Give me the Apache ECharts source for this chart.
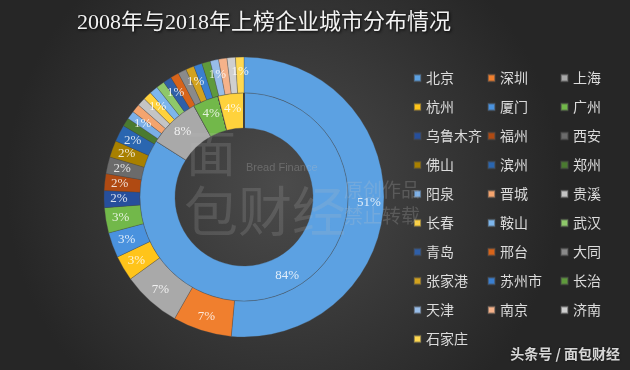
<!DOCTYPE html>
<html>
<head>
<meta charset="utf-8">
<script src="https://cdn.jsdelivr.net/npm/echarts@6/dist/echarts.min.js"></script>
<style>html,body{margin:0;padding:0;background:#333;}#c{width:630px;height:370px;}</style>
</head>
<body>
<div id="c"></div>
<script>
const cities = ['北京','深圳','上海','杭州','厦门','广州','乌鲁木齐','福州','西安','佛山','滨州','郑州','阳泉','晋城','贵溪','长春','鞍山','武汉','青岛','邢台','大同','张家港','苏州市','长治','天津','南京','济南','石家庄'];
const colors = ['#5ca1e2','#f07f2e','#a9a9a9','#ffc41a','#4a92de','#72b84a','#264f9c','#b04a12','#6b6b6b','#a88000','#2a66b0','#4a7a30','#7aaee6','#f4a46e','#c4c4c4','#ffd23c','#7db6ec','#8ec86a','#2f5fa8','#d8641a','#8a8a8a','#d2a21e','#3a7fd0','#5f9a3c','#98bde8','#f5b28a','#cfcfcf','#ffd850'];
// 2018 (outer ring) company counts by city
const values2018 = [53,7,7,3,3,3,2,2,2,2,2,1,1,1,1,1,1,1,1,1,1,1,1,1,1,1,1,1];
// 2008 (inner ring) company counts by city
const values2008 = [21,0,2,0,0,1,0,0,0,0,0,0,0,0,0,1,0,0,0,0,0,0,0,0,0,0,0,0];
const legendCol1 = ['北京','杭州','乌鲁木齐','佛山','阳泉','长春','青岛','张家港','天津','石家庄'];
const legendCol2 = ['深圳','厦门','福州','滨州','晋城','鞍山','邢台','苏州市','南京'];
const legendCol3 = ['上海','广州','西安','郑州','贵溪','武汉','大同','长治','济南'];
const titleText = '2008年与2018年上榜企业城市分布情况';

const chart = echarts.init(document.getElementById('c'), null, {renderer:'canvas'});
function mk(vals){ return cities.map((n,i)=>({name:n,value:vals[i],itemStyle:{color:colors[i]}})); }
const labelCfg = {
  show:true, position:'inside',
  formatter: p => p.value ? Math.round(p.percent)+'%' : '',
  color:'rgba(255,255,255,0.82)', fontSize:13, fontFamily:'Liberation Serif, serif'
};
function legend(left, data){
  return {orient:'vertical', left:left, top:66, itemWidth:7, itemHeight:7, itemGap:15, icon:'rect',
    textStyle:{color:'#dcdcdc', fontSize:14, lineHeight:14, fontFamily:'Noto Sans CJK SC'}, data:data, selectedMode:false};
}
chart.setOption({
  backgroundColor:{type:'radial', x:0.45, y:0.5, r:0.75, colorStops:[{offset:0,color:'#4b4b4b'},{offset:1,color:'#262626'}]},
  animation:false,
  title:{text:titleText, left:259, top:7, textAlign:'center',
    textStyle:{color:'#f2f2f2', fontSize:22, fontWeight:'normal', fontFamily:'Liberation Serif, Noto Sans CJK SC',
      textShadowColor:'rgba(0,0,0,0.9)', textShadowBlur:3, textShadowOffsetX:1, textShadowOffsetY:1}},
  legend:[legend(408,legendCol1), legend(482,legendCol2), legend(555,legendCol3)],
  graphic:[
    {type:'text', left:186, top:128, z:100, style:{text:'面', fontSize:50, fill:'rgba(190,190,190,0.18)', fontFamily:'Noto Sans CJK SC'}},
    {type:'text', left:184, top:184, z:100, style:{text:'包财经', fontSize:54, fill:'rgba(190,190,190,0.18)', fontFamily:'Noto Sans CJK SC'}},
    {type:'text', left:246, top:162, z:100, style:{text:'Bread Finance', fontSize:11, fill:'rgba(190,190,190,0.3)', fontFamily:'Liberation Sans'}},
    {type:'text', left:344, top:180, z:100, style:{text:'原创作品', fontSize:19, fill:'rgba(200,200,200,0.22)', fontFamily:'Noto Sans CJK SC'}},
    {type:'text', left:344, top:206, z:100, style:{text:'禁止转载', fontSize:19, fill:'rgba(200,200,200,0.22)', fontFamily:'Noto Sans CJK SC'}},
    {type:'text', right:10, top:347, z:100, style:{text:'头条号 / 面包财经', fontSize:14, fontWeight:'bold', fill:'rgba(235,235,235,0.9)', fontFamily:'Noto Sans CJK SC',
      textShadowColor:'rgba(0,0,0,0.6)', textShadowBlur:2}}
  ],
  series:[
    {type:'pie', name:'2018', center:[244,197], radius:[104,140], startAngle:90, clockwise:true,
     percentPrecision:2, avoidLabelOverlap:false, silent:true,
     itemStyle:{borderColor:'rgba(70,70,70,0.5)', borderWidth:0.6},
     label:labelCfg, labelLine:{show:false}, data:mk(values2018)},
    {type:'pie', name:'2008', center:[244,197], radius:[69,104], startAngle:90, clockwise:true,
     percentPrecision:2, avoidLabelOverlap:false, silent:true,
     itemStyle:{borderColor:'rgba(70,70,70,0.5)', borderWidth:0.6},
     label:labelCfg, labelLine:{show:false}, data:mk(values2008)}
  ]
});
</script>
</body>
</html>
